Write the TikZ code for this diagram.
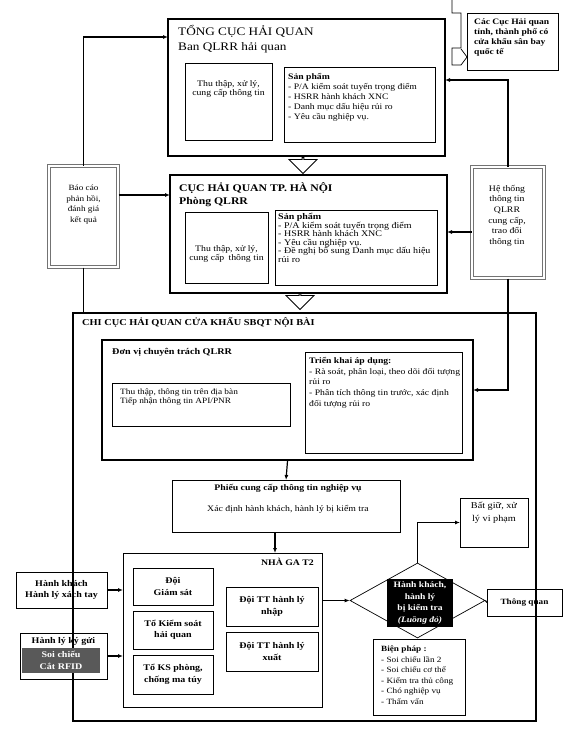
\documentclass[tikz,border=0pt]{standalone}
\usepackage{fontspec}
\setmainfont{Liberation Serif}[FakeStretch=1.15]
\usetikzlibrary{positioning,arrows.meta,shapes.geometric,shapes.arrows}
\newcommand{\smalltxt}{\fontsize{8.5}{9}\selectfont}
\newcommand{\titletxt}{\fontsize{11.5}{15}\selectfont}

\begin{document}
\begin{tikzpicture}[x=1pt, y=-1pt, >={Latex[length=5pt,width=4pt]},
    box/.style={draw, line width=0.7pt, inner sep=0pt, outer sep=0pt},
    bigbox/.style={draw, line width=2.6pt, inner sep=0pt, outer sep=0pt},
    dblbox/.style={draw=black!55, double=white, double distance=1.2pt, line width=1pt, inner sep=0pt},
    txt/.style={inner sep=0pt, font=\smalltxt, align=left},
    ctxt/.style={inner sep=0pt, font=\smalltxt, align=center},
    btxt/.style={inner sep=0pt, font=\fontsize{8.7}{11.5}\selectfont\bfseries, align=center},
    hollow/.style={single arrow, draw, line width=0.8pt, shape border rotate=270,
        minimum height=16, minimum width=28, single arrow head extend=6, inner sep=0pt},
    conn/.style={line width=1.2pt}]
    \useasboundingbox (0,0) rectangle (568,739);

    % Tong cuc
    \node[bigbox, minimum width=277, minimum height=137] (tong) at (306.5,87.5) {};
    \node[txt, anchor=north west, font=\titletxt] (tongtitle) at (178,25) {TỔNG CỤC HẢI QUAN\\Ban QLRR hải quan};
    \node[box, minimum width=87, minimum height=77] (tongthu) at (228.5,101.5) {};
    \node[ctxt, anchor=north] (tongthutxt) at (228.5,80) {Thu thập, xử lý,\\cung cấp thông tin};
    \node[box, minimum width=151, minimum height=75] (tongsp) at (359.5,104.5) {};
    \node[txt, anchor=north west, font=\fontsize{8.4}{10}\selectfont] (tongsptxt) at (288,73) {\textbf{Sản phẩm}\\- P/A kiểm soát tuyến trọng điểm\\- HSRR hành khách XNC\\- Danh mục dấu hiệu rủi ro\\- Yêu cầu nghiệp vụ.};

    \node[box, minimum width=91, minimum height=57] (caccuc) at (512.5,41.5) {};
    \node[txt, anchor=north west, font=\fontsize{8.3}{10}\selectfont\bfseries] (caccuctxt) at (474,19) {Các Cục Hải quan\\tỉnh, thành phố có\\cửa khẩu sân bay\\quốc tế};
    \draw[line width=0.7pt] (452,0) -- (452,13) -- (461,13) -- (461,48) -- (452,48) -- (452,65) -- (461,65) -- (467,57) -- (461,49);

    % Cuc Ha Noi
    \node[bigbox, minimum width=277, minimum height=118] (cuc) at (308.5,234) {};
    \node[txt, anchor=north west, font=\fontsize{10.2}{13.5}\selectfont\bfseries] (cuctitle) at (179,182) {CỤC HẢI QUAN TP. HÀ NỘI\\Phòng QLRR};
    \node[box, minimum width=83, minimum height=71] (cucthu) at (226.5,247.5) {};
    \node[ctxt, anchor=north] (cucthutxt) at (226.5,245) {Thu thập, xử lý,\\cung cấp\enspace thông tin};
    \node[box, minimum width=162, minimum height=75] (cucsp) at (356,247.5) {};
    \node[txt, anchor=north west, font=\fontsize{8.7}{8.6}\selectfont] (cucsptxt) at (278,213) {\textbf{Sản phẩm}\\- P/A kiểm soát tuyến trọng điểm\\- HSRR hành khách XNC\\- Yêu cầu nghiệp vụ.\\- Đề nghị bổ sung Danh mục dấu hiệu\\rủi ro};

    \node[hollow] (downa) at (303,165) {};
    \node[hollow] (downb) at (300,301) {};

    % side boxes
    \node[dblbox, minimum width=69, minimum height=101] (baocao) at (83.5,216.5) {};
    \node[ctxt, anchor=north, font=\fontsize{8}{10.5}\selectfont] (baocaotxt) at (83.5,185) {Báo cáo\\phản hồi,\\đánh giá\\kết quả};
    \node[dblbox, minimum width=72, minimum height=111] (hethong) at (508,222.5) {};
    \node[ctxt, anchor=north, font=\fontsize{8.5}{10.6}\selectfont] (hethongtxt) at (507,185) {Hệ thống\\thông tin\\QLRR\\cung cấp,\\trao đổi\\thông tin};

    % Chi cuc
    \node[draw, line width=1.6pt, minimum width=463, minimum height=408, inner sep=0pt] (chicuc) at (304.5,517) {};
    \node[txt, anchor=north west, font=\fontsize{9}{11}\selectfont\bfseries] (chicuctitle) at (82,317) {CHI CỤC HẢI QUAN CỬA KHẨU SBQT NỘI BÀI};
    \node[draw, line width=2pt, minimum width=371, minimum height=120, inner sep=0pt] (donvi) at (287.5,400) {};
    \node[txt, anchor=north west, font=\fontsize{8.8}{10}\selectfont\bfseries] (donvititle) at (112,348) {Đơn vị chuyên trách QLRR};
    \node[box, minimum width=178, minimum height=43] (thuthap) at (201,404.5) {};
    \node[txt, anchor=north west, font=\fontsize{8.1}{8.5}\selectfont] (thuthaptxt) at (120,389) {Thu thập, thông tin trên địa bàn\\Tiếp nhận thông tin API/PNR};
    \node[box, minimum width=157, minimum height=101] (trienkhai) at (383.5,402.5) {};
    \node[txt, anchor=north west, font=\fontsize{8.4}{10.8}\selectfont] (trienkhaitxt) at (309,357) {\textbf{Triển khai áp dụng:}\\- Rà soát, phân loại, theo dõi đối tượng\\rủi ro\\- Phân tích thông tin trước, xác định\\đối tượng rủi ro};

    \node[box, minimum width=228, minimum height=52] (phieu) at (286,506) {};
    \node[ctxt, anchor=north, font=\fontsize{8.5}{9}\selectfont] (phieutxt) at (288,484) {\textbf{Phiếu cung cấp thông tin nghiệp vụ}\\[12pt]Xác định hành khách, hành lý bị kiểm tra};
    \node[box, minimum width=68, minimum height=49] (batgiu) at (494,522.5) {};
    \node[ctxt, anchor=north, font=\fontsize{8.9}{12.5}\selectfont] (batgiutxt) at (494,502) {Bất giữ, xử\\lý vi phạm};

    % Nha ga
    \node[box, minimum width=199, minimum height=154] (nhaga) at (222.5,630) {};
    \node[btxt, anchor=north east, font=\fontsize{8.5}{10}\selectfont\bfseries] (nhagatxt) at (314,558) {NHÀ GA T2};
    \node[box, btxt, minimum width=80, minimum height=37] (doigs) at (173,586.5) {Đội\\Giám sát};
    \node[box, btxt, minimum width=80, minimum height=38] (tokiemsoat) at (173,630) {Tổ Kiểm soát\\hải quan};
    \node[box, btxt, minimum width=80, minimum height=39] (toks) at (173,674.5) {Tổ KS phòng,\\chống ma túy};
    \node[box, btxt, minimum width=92, minimum height=39] (doinhap) at (272,606.5) {Đội TT hành lý\\nhập};
    \node[box, btxt, minimum width=92, minimum height=39] (doixuat) at (272,651.5) {Đội TT hành lý\\xuất};

    \node[box, btxt, minimum width=91, minimum height=36] (hanhkhach) at (61.5,590) {Hành khách\\Hành lý xách tay};
    \node[box, minimum width=87, minimum height=46] (kygui) at (63.5,656) {};
    \node[btxt, anchor=north] (kyguitxt) at (63.5,637) {Hành lý ký gửi};
    \node[fill=black!65, text=white, btxt, minimum width=78, minimum height=25] (soichieu) at (61,660.5) {Soi chiếu\\Cắt RFID};

    \node[diamond, draw, line width=0.7pt, aspect=1.8, minimum width=135, minimum height=75, inner sep=0pt] (luong) at (417.5,600.5) {};
    \node[fill=black, text=white, ctxt, font=\fontsize{8.3}{11.5}\selectfont\bfseries, minimum width=66, minimum height=48] (luongtxt) at (420,603) {Hành khách,\\hành lý\\bị kiểm tra\\\textit{(Luồng đỏ)}};
    \node[box, btxt, font=\fontsize{8}{10}\selectfont\bfseries, minimum width=75, minimum height=27] (thongquan) at (524.5,602.5) {Thông quan};
    \node[box, minimum width=92, minimum height=76] (bienphap) at (419,677) {};
    \node[txt, anchor=north west, font=\fontsize{8}{10.5}\selectfont] (bienphaptxt) at (381,646) {\textbf{Biện pháp :}\\- Soi chiếu lần 2\\- Soi chiếu cơ thể\\- Kiểm tra thủ công\\- Chó nghiệp vụ\\- Thẩm vấn};

    % connectors
    \coordinate (tongin) at (168,37);
    \coordinate (tongin2) at (445,80);
    \coordinate (cucin) at (170,195);
    \coordinate (cucin2) at (447,232);
    \coordinate (donviin) at (473,390);
    \coordinate (nhagain) at (275,553);
    \draw[->, conn] (baocao.north) |- (tongin);
    \draw[->, conn] (baocao.east |- cucin) -- (cucin);
    \draw[conn] (baocao.south) -- (baocao.south |- chicuc.north);
    \draw[->, conn] (hethong.north) |- (tongin2);
    \draw[->, conn] (hethong.west |- cucin2) -- (cucin2);
    \draw[->, conn] (hethong.south) |- (donviin);
    \draw[->, conn] (donvi.south) -- (phieu.north);
    \draw[->, conn] (nhagain |- phieu.south) -- (nhagain);
    \draw[->, conn] (hanhkhach.east) -- (hanhkhach.east -| nhaga.west);
    \draw[->, conn] (kygui.east) -- (kygui.east -| nhaga.west);
    \draw[->, conn] (nhaga.east |- luong.west) -- (luong.west);
    \draw[->, conn] (luong.north) |- (batgiu.west);
    \draw[conn] (luong.east) -- (thongquan.west);
\end{tikzpicture}
\end{document}
